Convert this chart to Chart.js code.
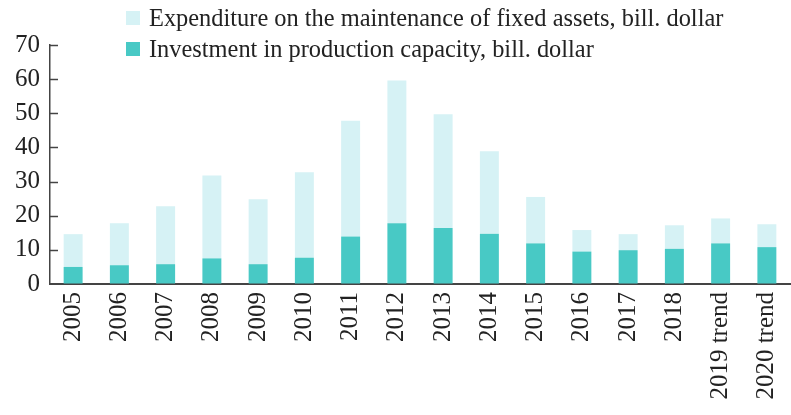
<!DOCTYPE html>
<html>
<head>
<meta charset="utf-8">
<script src="https://cdn.jsdelivr.net/npm/chart.js@4/dist/chart.umd.min.js"></script>
<style>
  html, body { margin: 0; padding: 0; background: #fff; }
  #wrap { position: relative; width: 791px; height: 415px; }
  #legend { position: absolute; left: 126px; top: 2px; font-family: "Liberation Serif", "DejaVu Serif", serif; font-size: 24.4px; color: #222; }
  .row { display: flex; align-items: center; height: 31px; white-space: nowrap; }
  .sw { width: 14px; height: 14px; margin-right: 9px; flex: none; }
</style>
</head>
<body>
<div id="wrap">
  <canvas id="c" width="791" height="415"></canvas>
  <div id="legend"></div>
</div>
<script>
const categories = ["2005","2006","2007","2008","2009","2010","2011","2012","2013","2014","2015","2016","2017","2018","2019 trend","2020 trend"];
// Investment in production capacity (bottom segment)
const investment = [5, 5.5, 5.8, 7.5, 5.8, 7.7, 13.9, 17.8, 16.4, 14.7, 11.9, 9.5, 9.9, 10.3, 11.9, 10.8];
// Expenditure on maintenance of fixed assets (stacked segment on top)
const maintenance = [9.6, 12.3, 17.0, 24.3, 19.0, 25.0, 33.9, 41.8, 33.3, 24.2, 13.6, 6.3, 4.7, 6.9, 7.3, 6.7];
const yTicks = [0, 10, 20, 30, 40, 50, 60, 70];

const seriesNames = ["Expenditure on the maintenance of fixed assets, bill. dollar", "Investment in production capacity, bill. dollar"];
const colLight = "#D6F2F5";
const colDark = "#48C9C5";

const legend = document.getElementById("legend");
[[seriesNames[0], colLight], [seriesNames[1], colDark]].forEach(([t, c]) => {
  const r = document.createElement("div"); r.className = "row";
  const s = document.createElement("span"); s.className = "sw"; s.style.background = c;
  const l = document.createElement("span"); l.textContent = t;
  r.appendChild(s); r.appendChild(l); legend.appendChild(r);
});

const innerTicks = {
  id: "innerTicks",
  afterDraw(chart) {
    const sc = chart.scales.y, ctx = chart.ctx, left = chart.chartArea.left;
    ctx.save();
    ctx.strokeStyle = "#444"; ctx.lineWidth = 1.5;
    sc.ticks.forEach((t, i) => {
      if (t.value === 0) return;
      const y = Math.round(sc.getPixelForTick(i)) + 0.5;
      ctx.beginPath(); ctx.moveTo(left, y); ctx.lineTo(left + 8, y); ctx.stroke();
    });
    ctx.restore();
  }
};

const serif = "'Liberation Serif', 'DejaVu Serif', serif";
new Chart(document.getElementById("c"), {
  type: "bar",
  data: {
    labels: categories,
    datasets: [
      { label: seriesNames[1], data: investment, backgroundColor: colDark, barPercentage: 0.41, categoryPercentage: 1 },
      { label: seriesNames[0], data: maintenance, backgroundColor: colLight, barPercentage: 0.41, categoryPercentage: 1 }
    ]
  },
  options: {
    responsive: false,
    animation: false,
    layout: { padding: { left: 0, top: 45, right: 1, bottom: 0 } },
    plugins: { legend: { display: false }, tooltip: { enabled: false } },
    scales: {
      x: {
        stacked: true,
        afterFit(scale) { scale.height = 131; scale.paddingLeft = 0; scale.paddingRight = 0; },
        grid: { drawOnChartArea: false, drawTicks: false },
        border: { display: true, color: "#444", width: 2 },
        ticks: { autoSkip: false, minRotation: 90, maxRotation: 90, padding: 8, color: "#222", font: { family: serif, size: 25 } }
      },
      y: {
        stacked: true,
        min: 0, max: 70,
        afterBuildTicks(scale) { scale.ticks = yTicks.map(v => ({ value: v })); },
        afterFit(scale) { scale.width = 50; scale.paddingTop = 0; scale.paddingBottom = 0; },
        grid: { drawOnChartArea: false, drawTicks: false },
        border: { display: true, color: "#444", width: 1.5 },
        ticks: { padding: 10, color: "#222", font: { family: serif, size: 25 } }
      }
    }
  },
  plugins: [innerTicks]
});
</script>
</body>
</html>
